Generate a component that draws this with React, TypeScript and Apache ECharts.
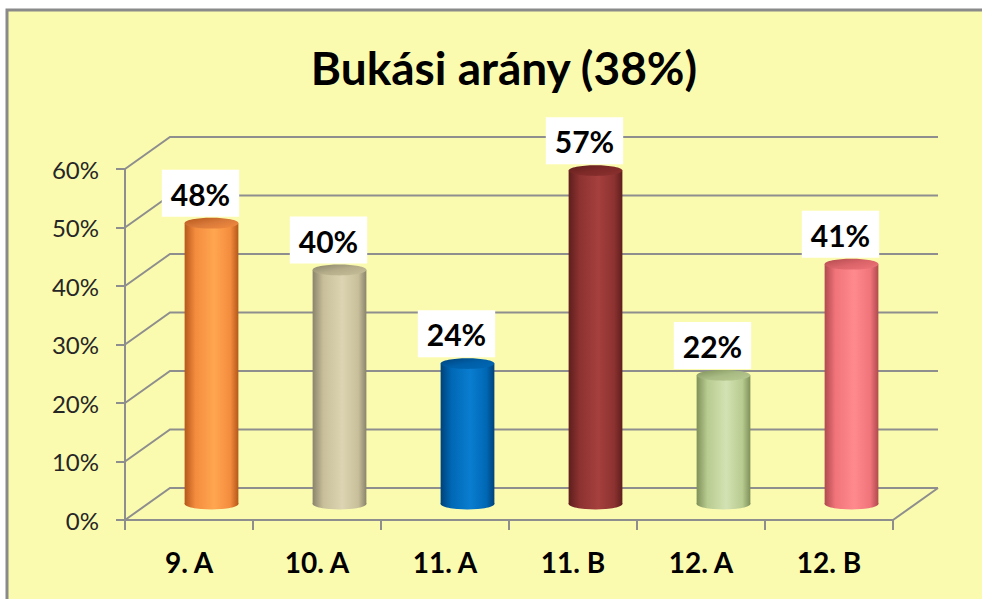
import React, { useEffect, useRef } from "react";
import * as echarts from "echarts";

const titleText = "Bukási arány (38%)";
const categories = ["9. A", "10. A", "11. A", "11. B", "12. A", "12. B"];
const failRates = [48, 40, 24, 57, 22, 41];
const yTicks = [0, 10, 20, 30, 40, 50, 60];

// edge (dark), side, highlight, top
const barPalettes = [
  ["#B5581A", "#F48C3E", "#FFA650", "#D9793A"],
  ["#8A846B", "#C8BF9A", "#DCD4B2", "#B5AD8A"],
  ["#00427A", "#0068B5", "#0A7DD0", "#005FA8"],
  ["#5E1E1D", "#8C3230", "#A5403E", "#7E2A28"],
  ["#7F9159", "#B8CB90", "#D3E2B3", "#A9BB84"],
  ["#B04A4E", "#F0747A", "#FF8A8E", "#DA6469"],
];

const DEPTH_DX = 45;
const DEPTH_DY = -32;
const GRID_COLOR = "#8E8E8E";
const FONT = "Lato, 'Open Sans', sans-serif";

function sideGradient(p: string[]) {
  return new echarts.graphic.LinearGradient(0, 0, 1, 0, [
    { offset: 0, color: p[0] },
    { offset: 0.2, color: p[1] },
    { offset: 0.55, color: p[2] },
    { offset: 0.85, color: p[1] },
    { offset: 1, color: p[0] },
  ]);
}
function topGradient(p: string[]) {
  return new echarts.graphic.LinearGradient(0, 0, 1, 1, [
    { offset: 0, color: p[0] },
    { offset: 0.5, color: p[3] },
    { offset: 1, color: p[1] },
  ]);
}

export default function App() {
  const ref = useRef<HTMLDivElement>(null);
  useEffect(() => {
    if (!ref.current) return;
    const chart = echarts.init(ref.current, null, { renderer: "svg" });
    const option: any = {
      animation: false,
      backgroundColor: "#FFFFFF",
      graphic: [
        {
          type: "rect",
          z: -10,
          shape: { x: 7, y: 10, width: 990, height: 600 },
          style: { fill: "#FBFBB0", stroke: "#8A8A8A", lineWidth: 3 },
        },
        {
          type: "text",
          x: 504,
          y: 67,
          style: {
            text: titleText,
            font: `bold 46px ${FONT}`,
            fill: "#000",
            align: "center",
            verticalAlign: "middle",
          },
        },
      ],
      grid: { left: 125, right: 89, top: 169, bottom: 79 },
      xAxis: {
        type: "category",
        data: categories,
        axisLine: { show: true, lineStyle: { color: GRID_COLOR, width: 2 } },
        axisTick: { show: true, interval: 0, length: 10, lineStyle: { color: GRID_COLOR, width: 2 } },
        axisLabel: {
          interval: 0,
          margin: 28,
          color: "#000",
          fontFamily: FONT,
          fontWeight: "bold",
          fontSize: 28,
        },
        splitLine: { show: false },
      },
      yAxis: {
        type: "value",
        min: 0,
        max: 60,
        interval: 10,
        axisLine: { show: true, lineStyle: { color: GRID_COLOR, width: 2 } },
        axisTick: { show: true, length: 9, lineStyle: { color: GRID_COLOR, width: 2 } },
        axisLabel: {
          formatter: "{value}%",
          margin: 26,
          color: "#262626",
          fontFamily: FONT,
          fontSize: 24,
        },
        splitLine: { show: false },
      },
      series: [
        {
          type: "custom",
          z: 1,
          silent: true,
          data: yTicks.map((t) => [0, t]),
          renderItem: (params: any, api: any) => {
            const cs = params.coordSys;
            const t = api.value(1);
            const y = api.coord([0, t])[1];
            const x0 = cs.x;
            const x1 = cs.x + cs.width;
            const children: any[] = [
              {
                type: "polyline",
                shape: {
                  points: [
                    [x0, y],
                    [x0 + DEPTH_DX, y + DEPTH_DY],
                    [x1 + DEPTH_DX, y + DEPTH_DY],
                  ],
                },
                style: { stroke: GRID_COLOR, lineWidth: 2, fill: null },
              },
            ];
            if (t === 0) {
              children.push({
                type: "line",
                shape: { x1: x1, y1: y, x2: x1 + DEPTH_DX, y2: y + DEPTH_DY },
                style: { stroke: GRID_COLOR, lineWidth: 2 },
              });
            }
            return { type: "group", children };
          },
        },
        {
          type: "custom",
          z: 3,
          data: failRates.map((v, i) => [i, v]),
          renderItem: (params: any, api: any) => {
            const i = api.value(0);
            const v = api.value(1);
            const p = barPalettes[i % barPalettes.length];
            const base = api.coord([i, 0]);
            const top = api.coord([i, v]);
            const bandW = api.size([1, 0])[0];
            const w = bandW * 0.42;
            const cx = base[0] + DEPTH_DX / 2;
            const yb = base[1] + DEPTH_DY / 2;
            const yt = top[1] + DEPTH_DY / 2;
            const ry = w * 0.1;
            return {
              type: "group",
              children: [
                {
                  type: "ellipse",
                  shape: { cx, cy: yb, rx: w / 2, ry },
                  style: { fill: sideGradient(p) },
                },
                {
                  type: "rect",
                  shape: { x: cx - w / 2, y: yt, width: w, height: yb - yt },
                  style: { fill: sideGradient(p) },
                },
                {
                  type: "ellipse",
                  shape: { cx, cy: yt, rx: w / 2, ry },
                  style: { fill: topGradient(p) },
                },
                {
                  type: "text",
                  x: cx - 11,
                  y: yt - ry - 1,
                  style: {
                    text: `${v}%`,
                    font: `bold 30px ${FONT}`,
                    fill: "#000",
                    align: "center",
                    verticalAlign: "bottom",
                    backgroundColor: "#FFFFFF",
                    padding: [9, 9, 8, 9],
                  },
                },
              ],
            };
          },
        },
      ],
    };
    chart.setOption(option);
    return () => chart.dispose();
  }, []);
  return (
    <div
      ref={ref}
      style={{ position: "fixed", left: 0, top: 0, width: 982, height: 599 }}
    />
  );
}
